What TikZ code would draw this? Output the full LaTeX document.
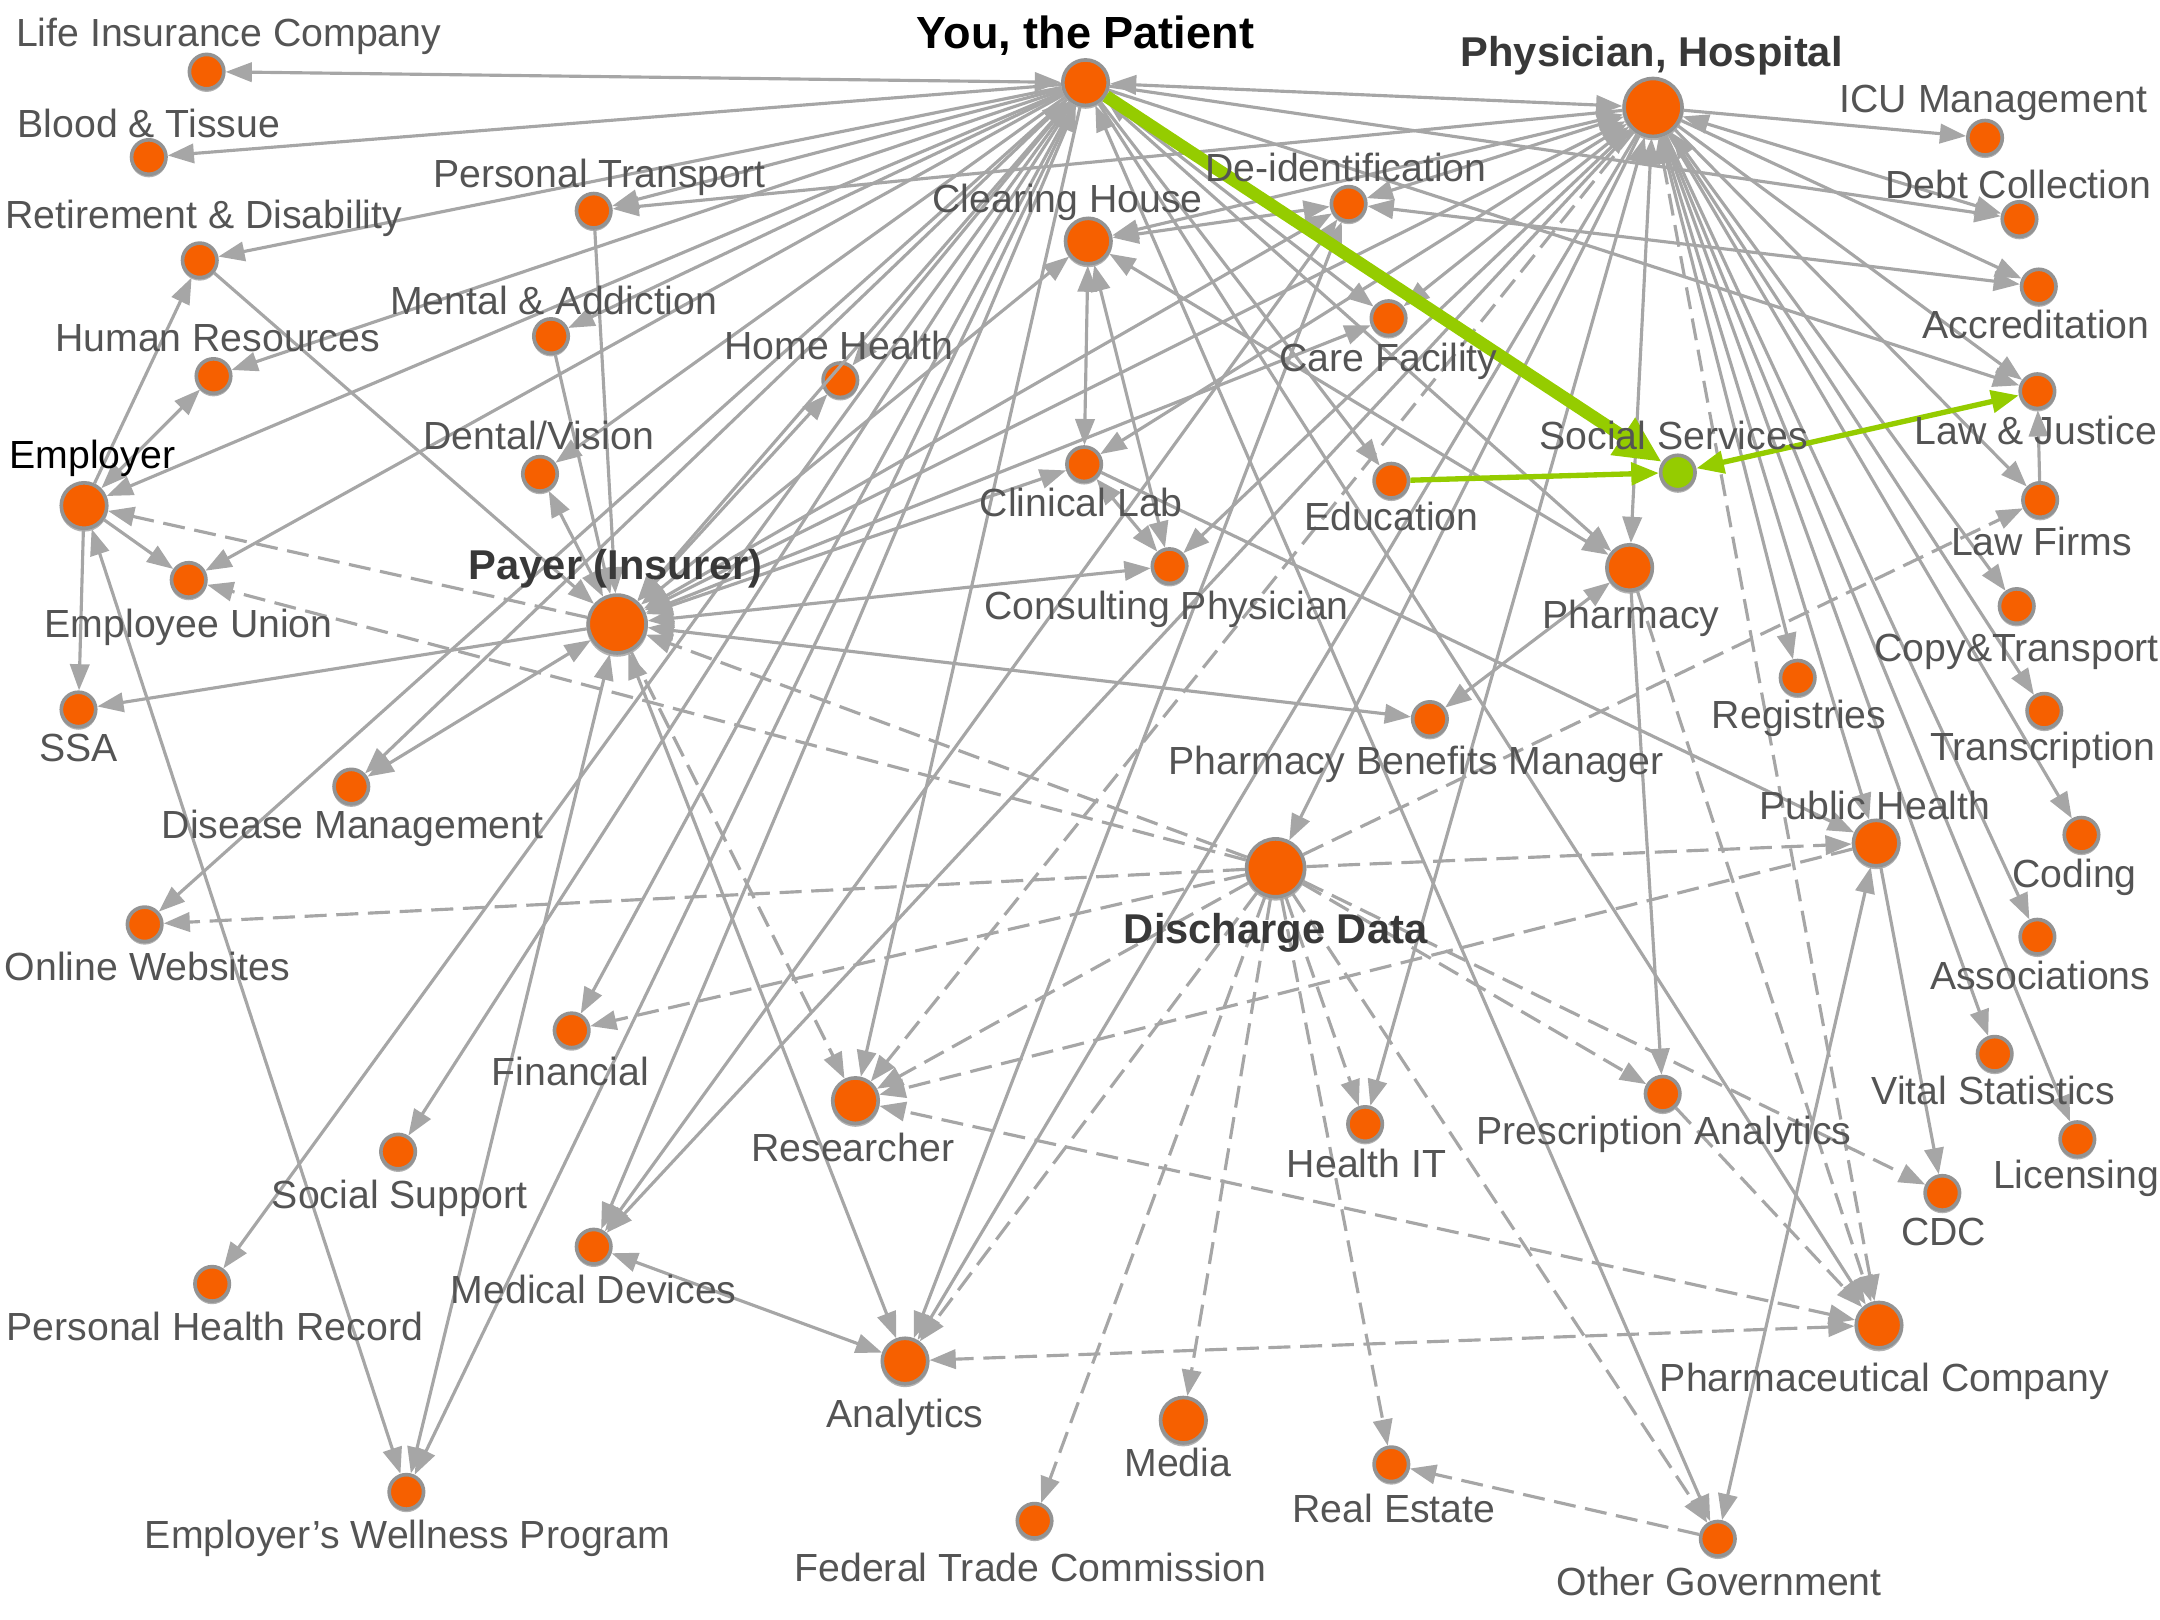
\documentclass[tikz,border=0pt]{standalone}
\usepackage{fontspec}
\setmainfont{Liberation Sans}
\usepackage{tikz}
\usetikzlibrary{arrows.meta, shadows}

\definecolor{linkgray}{HTML}{A6A6A6}
\definecolor{dotorange}{HTML}{F66000}
\definecolor{dotgreen}{HTML}{95CC00}
\definecolor{labelgray}{HTML}{545454}
\definecolor{headgray}{HTML}{383838}

\tikzset{
    >={Triangle[length=0.19cm,width=0.14cm]},
    dot/.style={circle, inner sep=0pt, fill=dotorange, draw=gray!85, line width=0.75pt,
        drop shadow={shadow xshift=0pt, shadow yshift=-0.4pt, opacity=0.3, fill=black, shadow scale=1.06}},
    smalldot/.style={dot, minimum size=0.25cm},
    middot/.style={dot, minimum size=0.33cm},
    bigdot/.style={dot, minimum size=0.42cm},
    lbl/.style={inner sep=0pt, text height=0.2cm, text depth=0pt, text=labelgray, font=\fontsize{8.1}{10}\selectfont},
    hublbl/.style={lbl, text=headgray, font=\fontsize{8.6}{10}\selectfont\bfseries},
    link/.style={draw=linkgray, line width=0.65pt, ->},
    twolink/.style={draw=linkgray, line width=0.65pt, <->},
    datalink/.style={draw=linkgray, line width=0.65pt, ->, dash pattern=on 0.16cm off 0.07cm},
    twodatalink/.style={datalink, <->},
    greenlink/.style={draw=dotgreen, line width=1.1pt, ->, >={Triangle[length=0.2cm,width=0.16cm]}}
}

\begin{document}
\begin{tikzpicture}[x=0.01cm,y=-0.01cm]

    \useasboundingbox (0,0) rectangle (1568,1176);

    % Hubs
    \node[middot] (pat) at (788,60) {};
    \node[bigdot] (hosp) at (1200,78) {};
    \node[bigdot] (payer) at (448,453) {};
    \node[bigdot] (disch) at (926,630) {};
    \node[middot] (emp) at (61,367) {};

    % Left side
    \node[smalldot] (life) at (150,52) {};
    \node[smalldot] (blood) at (108,114) {};
    \node[smalldot] (transp) at (431,153) {};
    \node[smalldot] (retire) at (145,189) {};
    \node[smalldot] (hres) at (155,273) {};
    \node[smalldot] (mental) at (400,244) {};
    \node[smalldot] (home) at (610,276) {};
    \node[smalldot] (dental) at (392,344) {};
    \node[smalldot] (union) at (137,421) {};
    \node[smalldot] (ssa) at (57,515) {};
    \node[smalldot] (dism) at (255,571) {};
    \node[smalldot] (online) at (105,671) {};
    \node[smalldot] (finance) at (415,748) {};
    \node[smalldot] (support) at (289,836) {};
    \node[smalldot] (phr) at (154,932) {};
    \node[smalldot] (devices) at (431,905) {};
    \node[smalldot] (wellness) at (295,1083) {};

    % Middle
    \node[middot] (clear) at (790,175) {};
    \node[smalldot] (deid) at (979,148) {};
    \node[smalldot] (care) at (1008,231) {};
    \node[smalldot] (clin) at (787,337) {};
    \node[smalldot] (consult) at (849,411) {};
    \node[smalldot] (edu) at (1010,349) {};
    \node[smalldot, fill=dotgreen] (social) at (1218,343) {};
    \node[middot] (pharm) at (1183,412) {};
    \node[smalldot] (pbm) at (1038,522) {};
    \node[middot] (research) at (621,799) {};
    \node[middot] (analytics) at (657,988) {};
    \node[smalldot] (ftc) at (751,1104) {};
    \node[middot] (media) at (859,1031) {};
    \node[smalldot] (estate) at (1010,1063) {};
    \node[smalldot] (othergov) at (1247,1117) {};
    \node[middot] (pharmco) at (1364,962) {};
    \node[smalldot] (healthit) at (991,816) {};
    \node[smalldot] (presc) at (1207,794) {};

    % Right side
    \node[smalldot] (icu) at (1441,100) {};
    \node[smalldot] (debt) at (1466,159) {};
    \node[smalldot] (accred) at (1480,208) {};
    \node[smalldot] (justice) at (1479,284) {};
    \node[smalldot] (firms) at (1481,363) {};
    \node[smalldot] (copy) at (1464,440) {};
    \node[smalldot] (transcr) at (1484,516) {};
    \node[smalldot] (registry) at (1305,492) {};
    \node[smalldot] (coding) at (1511,606) {};
    \node[middot] (pubh) at (1362,612) {};
    \node[smalldot] (assoc) at (1479,680) {};
    \node[smalldot] (vital) at (1448,765) {};
    \node[smalldot] (licens) at (1508,827) {};
    \node[smalldot] (cdc) at (1410,866) {};

    % Links of the patient
    \draw[twolink] (pat) -- (hosp);
    \draw[twolink] (pat) -- (life);
    \draw[link] (pat) -- (blood);
    \draw[link] (pat) -- (retire);
    \draw[link] (pat) -- (transp);
    \draw[link] (pat) -- (hres);
    \draw[link] (pat) -- (mental);
    \draw[link] (pat) -- (emp);
    \draw[link] (pat) -- (union);
    \draw[link] (pat) -- (dental);
    \draw[link] (pat) -- (home);
    \draw[twolink] (pat) -- (payer);
    \draw[twolink] (pat) -- (dism);
    \draw[link] (pat) -- (online);
    \draw[link] (pat) -- (finance);
    \draw[link] (pat) -- (support);
    \draw[link] (pat) -- (phr);
    \draw[twolink] (pat) -- (devices);
    \draw[link] (pat) -- (wellness);
    \draw[link] (pat) -- (research);
    \draw[link] (pat) -- (debt);
    \draw[link] (pat) -- (justice);
    \draw[twolink] (pat) -- (care);
    \draw[link] (pat) -- (edu);
    \draw[link] (pat) -- (pharm);
    \draw[link] (pat) -- (pharmco);
    \draw[twolink] (pat) -- (othergov);

    % Links of the physician
    \draw[link] (hosp) -- (transp);
    \draw[twolink] (hosp) -- (clear);
    \draw[twolink] (hosp) -- (deid);
    \draw[twolink] (hosp) -- (care);
    \draw[twolink] (hosp) -- (clin);
    \draw[twolink] (hosp) -- (consult);
    \draw[twolink] (hosp) -- (payer);
    \draw[link] (hosp) -- (disch);
    \draw[link] (hosp) -- (devices);
    \draw[link] (hosp) -- (analytics);
    \draw[twolink] (hosp) -- (healthit);
    \draw[twolink] (hosp) -- (pharm);
    \draw[link] (hosp) -- (icu);
    \draw[twolink] (hosp) -- (debt);
    \draw[link] (hosp) -- (accred);
    \draw[link] (hosp) -- (justice);
    \draw[link] (hosp) -- (firms);
    \draw[twolink] (hosp) -- (copy);
    \draw[link] (hosp) -- (transcr);
    \draw[link] (hosp) -- (registry);
    \draw[link] (hosp) -- (coding);
    \draw[link] (hosp) -- (pubh);
    \draw[link] (hosp) -- (assoc);
    \draw[link] (hosp) -- (vital);
    \draw[link] (hosp) -- (licens);
    \draw[datalink] (hosp) -- (research);
    \draw[twodatalink] (hosp) -- (pharmco);

    % Links of the payer
    \draw[link] (transp) -- (payer);
    \draw[link] (retire) -- (payer);
    \draw[link] (mental) -- (payer);
    \draw[twolink] (dental) -- (payer);
    \draw[twolink] (home) -- (payer);
    \draw[twolink] (payer) -- (clear);
    \draw[twolink] (payer) -- (deid);
    \draw[twolink] (payer) -- (care);
    \draw[twolink] (payer) -- (clin);
    \draw[twolink] (payer) -- (consult);
    \draw[twolink] (payer) -- (pbm);
    \draw[link] (payer) -- (ssa);
    \draw[twolink] (payer) -- (dism);
    \draw[twolink] (payer) -- (wellness);
    \draw[twolink] (payer) -- (analytics);
    \draw[datalink] (payer) -- (emp);
    \draw[datalink] (payer) -- (research);

    % Employer
    \draw[link] (emp) -- (retire);
    \draw[twolink] (emp) -- (hres);
    \draw[link] (emp) -- (union);
    \draw[link] (emp) -- (ssa);
    \draw[twolink] (emp) -- (wellness);

    % Middle links
    \draw[twolink] (clear) -- (deid);
    \draw[twolink] (clear) -- (clin);
    \draw[twolink] (clear) -- (consult);
    \draw[twolink] (clear) -- (pharm);
    \draw[twolink] (clin) -- (consult);
    \draw[link] (clin) -- (pubh);
    \draw[twolink] (deid) -- (accred);
    \draw[twolink] (deid) -- (devices);
    \draw[twolink] (deid) -- (analytics);
    \draw[twolink] (devices) -- (analytics);
    \draw[twolink] (pharm) -- (pbm);
    \draw[link] (pharm) -- (presc);
    \draw[datalink] (pharm) -- (pharmco);
    \draw[datalink] (presc) -- (pharmco);
    \draw[link] (firms) -- (justice);
    \draw[link] (pubh) -- (cdc);
    \draw[twolink] (pubh) -- (othergov);
    \draw[datalink] (pubh) -- (research);
    \draw[datalink] (othergov) -- (estate);
    \draw[twodatalink] (pharmco) -- (research);
    \draw[twodatalink] (pharmco) -- (analytics);

    % Discharge data goes out to these
    \draw[datalink] (disch) -- (payer);
    \draw[datalink] (disch) -- (union);
    \draw[datalink] (disch) -- (online);
    \draw[datalink] (disch) -- (finance);
    \draw[datalink] (disch) -- (research);
    \draw[datalink] (disch) -- (analytics);
    \draw[datalink] (disch) -- (ftc);
    \draw[datalink] (disch) -- (media);
    \draw[datalink] (disch) -- (estate);
    \draw[datalink] (disch) -- (healthit);
    \draw[datalink] (disch) -- (othergov);
    \draw[datalink] (disch) -- (presc);
    \draw[datalink] (disch) -- (cdc);
    \draw[datalink] (disch) -- (pubh);
    \draw[datalink] (disch) -- (firms);

    % Green path to social services
    \draw[greenlink, line width=2.6pt, >={Triangle[length=0.34cm,width=0.3cm]}] (pat) -- (social);
    \draw[greenlink] (edu) -- (social);
    \draw[greenlink, <->] (justice) -- (social);

    % Labels
    \node[lbl] (lifelbl) at (166,24) {Life Insurance Company};
    \node[lbl] (bloodlbl) at (108,90) {Blood \& Tissue};
    \node[lbl] (retirelbl) at (148,156) {Retirement \& Disability};
    \node[lbl] (transplbl) at (435,126) {Personal Transport};
    \node[lbl] (hreslbl) at (158,245) {Human Resources};
    \node[lbl] (mentallbl) at (402,218) {Mental \& Addiction};
    \node[lbl] (homelbl) at (609,251) {Home Health};
    \node[lbl, text=black] (emplbl) at (67,330) {Employer};
    \node[lbl] (dentallbl) at (391,316) {Dental/Vision};
    \node[hublbl] (payerlbl) at (447,411) {Payer (Insurer)};
    \node[lbl] (unionlbl) at (137,453) {Employee Union};
    \node[lbl] (ssalbl) at (57,543) {SSA};
    \node[lbl] (dismlbl) at (256,599) {Disease Management};
    \node[lbl] (onlinelbl) at (107,702) {Online Websites};
    \node[lbl] (financelbl) at (414,778) {Financial};
    \node[lbl] (supportlbl) at (290,867) {Social Support};
    \node[lbl] (phrlbl) at (156,963) {Personal Health Record};
    \node[lbl] (deviceslbl) at (431,936) {Medical Devices};
    \node[lbl] (researchlbl) at (619,833) {Researcher};
    \node[lbl] (analyticslbl) at (657,1026) {Analytics};
    \node[lbl] (wellnesslbl) at (296,1114) {Employer’s Wellness Program};
    \node[lbl] (ftclbl) at (748,1138) {Federal Trade Commission};
    \node[lbl] (medialbl) at (855,1062) {Media};
    \node[lbl] (estatelbl) at (1012,1095) {Real Estate};
    \node[lbl] (othergovlbl) at (1248,1148) {Other Government};
    \node[lbl] (pharmcolbl) at (1368,1000) {Pharmaceutical Company};
    \node[lbl] (healthitlbl) at (992,845) {Health IT};
    \node[lbl] (presclbl) at (1208,821) {Prescription Analytics};
    \node[lbl] (cdclbl) at (1411,894) {CDC};
    \node[lbl] (vitallbl) at (1447,792) {Vital Statistics};
    \node[lbl] (licenslbl) at (1507,853) {Licensing};
    \node[lbl] (assoclbl) at (1481,708) {Associations};
    \node[lbl] (codinglbl) at (1506,634) {Coding};
    \node[lbl] (transcrlbl) at (1483,542) {Transcription};
    \node[lbl] (pubhlbl) at (1361,585) {Public Health};
    \node[lbl] (registrylbl) at (1306,519) {Registries};
    \node[lbl] (copylbl) at (1464,470) {Copy\&Transport};
    \node[lbl] (firmslbl) at (1482,393) {Law Firms};
    \node[lbl] (justicelbl) at (1478,313) {Law \& Justice};
    \node[lbl] (accredlbl) at (1478,236) {Accreditation};
    \node[lbl] (debtlbl) at (1465,134) {Debt Collection};
    \node[lbl] (iculbl) at (1447,72) {ICU Management};
    \node[hublbl] (hosplbl) at (1199,38) {Physician, Hospital};
    \node[hublbl, text=black, font=\fontsize{9.3}{10}\selectfont\bfseries] (patlbl) at (788,25) {You, the Patient};
    \node[lbl] (clearlbl) at (775,144) {Clearing House};
    \node[lbl] (deidlbl) at (977,122) {De-identification};
    \node[lbl] (carelbl) at (1008,260) {Care Facility};
    \node[lbl] (sociallbl) at (1215,316) {Social Services};
    \node[lbl] (clinlbl) at (785,365) {Clinical Lab};
    \node[lbl] (edulbl) at (1010,375) {Education};
    \node[lbl] (consultlbl) at (847,440) {Consulting Physician};
    \node[lbl] (pharmlbl) at (1184,446) {Pharmacy};
    \node[lbl] (pbmlbl) at (1028,552) {Pharmacy Benefits Manager};
    \node[hublbl] (dischlbl) at (926,675) {Discharge Data};

\end{tikzpicture}
\end{document}
